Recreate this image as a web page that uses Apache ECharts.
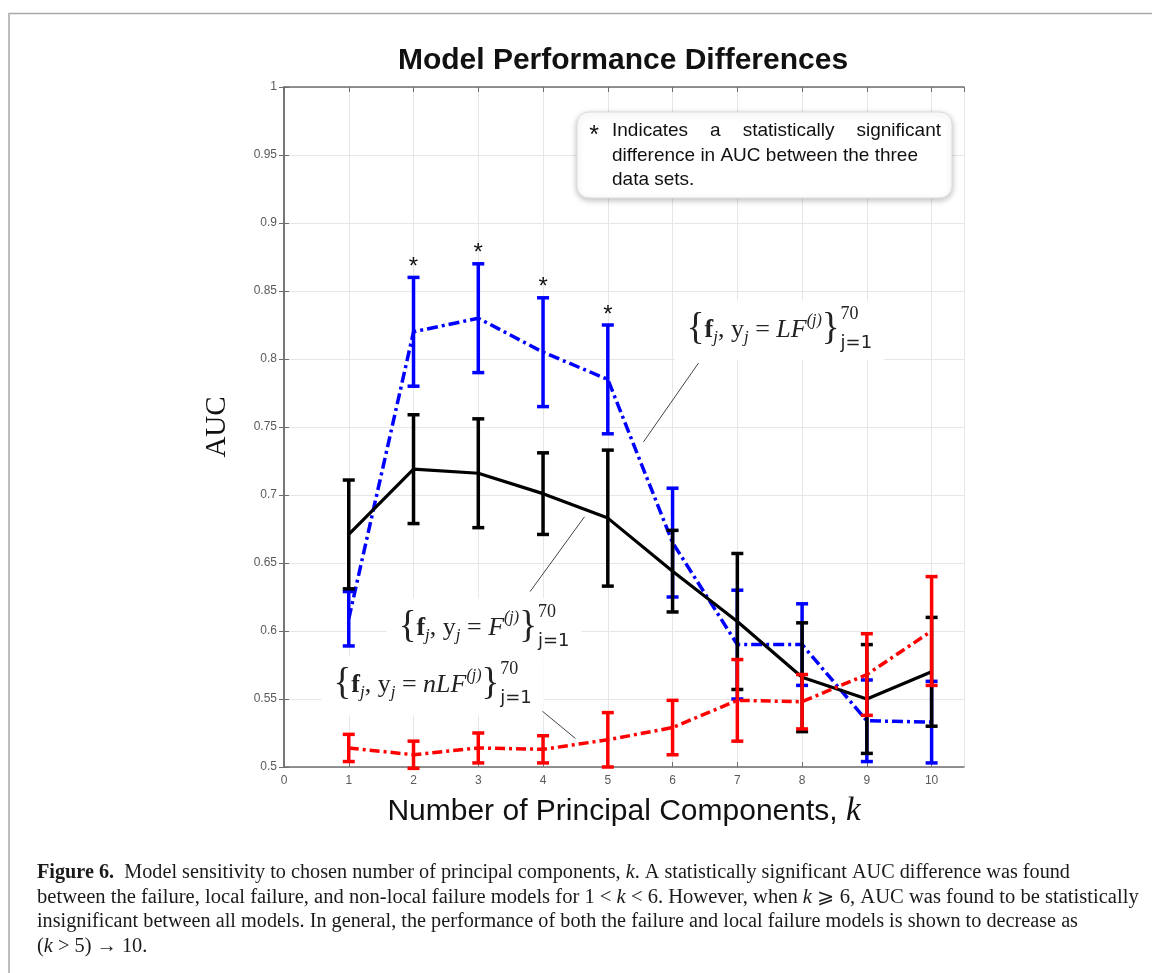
<!DOCTYPE html>
<html>
<head>
<meta charset="utf-8">
<script src="https://cdn.jsdelivr.net/npm/echarts@6/dist/echarts.min.js"></script>
<style>
  html, body { margin: 0; background: #fff; }
  #main { width: 1152px; height: 973px; }
</style>
</head>
<body>
<div id="main"></div>
<script>
// ---- data ----
const K = [1, 2, 3, 4, 5, 6, 7, 8, 9, 10];
// LF model (blue, dash-dot)
const lfMean = [0.609, 0.820, 0.830, 0.805, 0.785, 0.665, 0.590, 0.590, 0.534, 0.533];
const lfErr  = [0.020, 0.040, 0.040, 0.040, 0.040, 0.040, 0.040, 0.030, 0.030, 0.030];
// F model (black, solid)
const fMean  = [0.671, 0.719, 0.716, 0.701, 0.683, 0.644, 0.607, 0.566, 0.550, 0.570];
const fErr   = [0.040, 0.040, 0.040, 0.030, 0.050, 0.030, 0.050, 0.040, 0.040, 0.040];
// nLF model (red, dash-dot)
const nlfMean = [0.514, 0.509, 0.514, 0.513, 0.520, 0.529, 0.549, 0.548, 0.568, 0.600];
const nlfErr  = [0.010, 0.010, 0.011, 0.010, 0.020, 0.020, 0.030, 0.020, 0.030, 0.040];
// significant difference marks (*)
const sigFlag = [0, 1, 1, 1, 1, 0, 0, 0, 0, 0];

const xMin = 0, xMax = 10.5, xStep = 1;
const yMin = 0.5, yMax = 1, yStep = 0.05;

// ---- helpers ----
const ctx = document.createElement('canvas').getContext('2d');
function measure(text, size, family, style, weight) {
  ctx.font = `${style || 'normal'} ${weight || 'normal'} ${size}px ${family}`;
  return ctx.measureText(text).width;
}

function lineSeries(name, mean, color, width, dash, z) {
  return {
    type: 'line', name, z,
    data: K.map((k, i) => [k, mean[i]]),
    symbol: 'none',
    lineStyle: { color, width, type: dash },
    silent: true
  };
}

function errorSeries(name, mean, err, color, width, z, flags) {
  return {
    type: 'custom', name, z,
    data: K.map((k, i) => [k, mean[i] - err[i], mean[i] + err[i], flags ? flags[i] : 0]),
    encode: { x: 0, y: [1, 2] },
    renderItem(params, api) {
      const x = api.value(0);
      const lo = api.coord([x, api.value(1)]);
      const hi = api.coord([x, api.value(2)]);
      const hw = 6;
      const style = { stroke: color, lineWidth: width };
      const children = [
        { type: 'line', shape: { x1: lo[0], y1: lo[1], x2: hi[0], y2: hi[1] }, style },
        { type: 'line', shape: { x1: lo[0] - hw, y1: lo[1], x2: lo[0] + hw, y2: lo[1] }, style },
        { type: 'line', shape: { x1: hi[0] - hw, y1: hi[1], x2: hi[0] + hw, y2: hi[1] }, style }
      ];
      if (api.value(3)) {
        children.push({
          type: 'text', x: hi[0], y: hi[1] - 10,
          style: { text: '*', fill: '#111', fontSize: 24, fontFamily: 'Liberation Sans', align: 'center', verticalAlign: 'middle' }
        });
      }
      return { type: 'group', children };
    }
  };
}

const chart = echarts.init(document.getElementById('main'));

const axisGray = '#6f6f6f';
const labelGray = '#5a5a5a';

chart.setOption({
  animation: false,
  title: {
    text: 'Model Performance Differences',
    left: 618, top: 41, textAlign: 'center',
    textStyle: { fontFamily: 'Liberation Sans', fontSize: 30, fontWeight: 'bold', color: '#111' }
  },
  grid: { left: 284, right: 188, top: 87, bottom: 206 },
  xAxis: [{
    type: 'value', min: xMin, max: xMax, interval: xStep,
    name: 'Number of Principal Components, {i|k}',
    nameLocation: 'middle', nameGap: 28,
    nameTextStyle: {
      fontFamily: 'Liberation Sans', fontSize: 30, color: '#111',
      rich: { i: { fontFamily: 'Liberation Serif', fontStyle: 'italic', fontSize: 33, color: '#111' } }
    },
    axisLine: { show: true, lineStyle: { color: axisGray, width: 1.5 } },
    axisTick: { show: true, inside: true, length: 5, lineStyle: { color: axisGray } },
    axisLabel: { color: labelGray, fontSize: 12, fontFamily: 'Liberation Sans', margin: 8, showMaxLabel: false },
    splitLine: { show: true, lineStyle: { color: '#e6e6e6', width: 1 } }
  }, {
    type: 'value', min: xMin, max: xMax, interval: xStep, position: 'top',
    axisLine: { show: true, lineStyle: { color: axisGray, width: 1.5 } },
    axisTick: { show: true, inside: true, length: 5, lineStyle: { color: axisGray } },
    axisLabel: { show: false }, splitLine: { show: false }
  }],
  yAxis: [{
    type: 'value', min: yMin, max: yMax, interval: yStep,
    name: 'AUC', nameLocation: 'middle', nameGap: 52, nameRotate: 90,
    nameTextStyle: { fontFamily: 'Liberation Serif', fontSize: 29, color: '#111' },
    axisLine: { show: true, lineStyle: { color: axisGray, width: 1.5 } },
    axisTick: { show: true, inside: true, length: 5, lineStyle: { color: axisGray } },
    axisLabel: { color: labelGray, fontSize: 12, fontFamily: 'Liberation Sans', margin: 7 },
    splitLine: { show: true, lineStyle: { color: '#e6e6e6', width: 1 } }
  }, {
    type: 'value', min: yMin, max: yMax, interval: yStep, position: 'right',
    axisLine: { show: true, lineStyle: { color: axisGray, width: 1.5 } },
    axisTick: { show: true, inside: true, length: 5, lineStyle: { color: axisGray } },
    axisLabel: { show: false }, splitLine: { show: false }
  }],
  series: [
    lineSeries('LF', lfMean, '#0000ff', 3.5, [11, 4, 3, 4], 3),
    errorSeries('LF err', lfMean, lfErr, '#0000ff', 3.5, 3, sigFlag),
    lineSeries('F', fMean, '#000000', 3.2, 'solid', 4),
    errorSeries('F err', fMean, fErr, '#000000', 3.5, 4),
    lineSeries('nLF', nlfMean, '#ff0000', 3.5, [10, 4, 3, 4], 5),
    errorSeries('nLF err', nlfMean, nlfErr, '#ff0000', 3.5, 5)
  ]
});

// ---- annotations (positions given in data space) ----
const px = p => chart.convertToPixel({ gridIndex: 0 }, p);
const SERIF = '"Liberation Serif"';

function mathLabel(anchorData, model) {
  const a = px(anchorData);
  const parts = [
    { t: '{', size: 37, dy: -1 },
    { t: 'f', size: 26, weight: 'bold' },
    { t: 'j', size: 17, style: 'italic', dy: 7 },
    { t: ', y', size: 26 },
    { t: 'j', size: 17, style: 'italic', dy: 7 },
    { t: ' = ', size: 26 },
    { t: model, size: 26, style: 'italic' },
    { t: '(j)', size: 16, style: 'italic', dy: -10 },
    { t: '}', size: 37, dy: -1 }
  ];
  let x = a[0];
  const els = [];
  parts.forEach(p => {
    els.push({
      type: 'text', x, y: a[1] + (p.dy || 0), z: 102,
      style: { text: p.t, fontSize: p.size, fontFamily: SERIF, fontStyle: p.style || 'normal',
               fontWeight: p.weight || 'normal', fill: '#222', verticalAlign: 'middle' }
    });
    x += measure(p.t, p.size, SERIF, p.style, p.weight);
  });
  x += 1;
  els.push({ type: 'text', x, y: a[1] - 16, z: 102,
    style: { text: '70', fontSize: 18, fontFamily: SERIF, fill: '#222', verticalAlign: 'middle' } });
  els.push({ type: 'text', x, y: a[1] + 13, z: 102,
    style: { text: 'j=1', fontSize: 18, fontFamily: 'DejaVu Sans', fill: '#222', verticalAlign: 'middle' } });
  const right = x + measure('j=1', 18, 'DejaVu Sans') + 12;
  els.unshift({ type: 'rect', z: 101, shape: { x: a[0] - 12, y: a[1] - 30, width: right - a[0] + 12, height: 60 },
    style: { fill: '#fff' } });
  return els;
}

function leader(p1, p2) {
  const a = px(p1), b = px(p2);
  return { type: 'line', z: 103, shape: { x1: a[0], y1: a[1], x2: b[0], y2: b[1] },
    style: { stroke: '#444', lineWidth: 1 } };
}

// legend box text, first line justified
const legFont = 'Liberation Sans';
const legSize = 19;
const words1 = ['Indicates', 'a', 'statistically', 'significant'];
const lx0 = 612, lx1 = 941;
const wSum = words1.reduce((s, w) => s + measure(w, legSize, legFont), 0);
const gap = (lx1 - lx0 - wSum) / (words1.length - 1);
const legendEls = [{
  type: 'rect', z: 104, shape: { x: 577, y: 112, width: 375, height: 86, r: 12 },
  style: { fill: '#fff', stroke: '#dcdcdc', lineWidth: 1, shadowBlur: 6, shadowColor: 'rgba(0,0,0,0.25)', shadowOffsetY: 2 }
}, {
  type: 'text', x: 594, y: 136, z: 105,
  style: { text: '*', fontSize: 25, fontFamily: legFont, fill: '#111', align: 'center', verticalAlign: 'middle' }
}];
let wx = lx0;
words1.forEach(w => {
  legendEls.push({ type: 'text', x: wx, y: 131, z: 105,
    style: { text: w, fontSize: legSize, fontFamily: legFont, fill: '#111', verticalAlign: 'middle' } });
  wx += measure(w, legSize, legFont) + gap;
});
legendEls.push({ type: 'text', x: lx0, y: 155.5, z: 105,
  style: { text: 'difference in AUC between the three', fontSize: legSize, fontFamily: legFont, fill: '#111', verticalAlign: 'middle' } });
legendEls.push({ type: 'text', x: lx0, y: 180, z: 105,
  style: { text: 'data sets.', fontSize: legSize, fontFamily: legFont, fill: '#111', verticalAlign: 'middle' } });

// caption
const capSize = 20;
const capLines = [
  { plain: 'Figure 6.  Model sensitivity to chosen number of principal components, k. A statistically significant AUC difference was found',
    rich: '{b|Figure 6.}  Model sensitivity to chosen number of principal components, {i|k}. A statistically significant AUC difference was found',
    y: 873, right: 1067 },
  { plain: 'between the failure, local failure, and non-local failure models for 1 < k < 6. However, when k ⩾ 6, AUC was found to be statistically',
    rich: 'between the failure, local failure, and non-local failure models for 1 < {i|k} < 6. However, when {i|k} ⩾ 6, AUC was found to be statistically',
    y: 897.5, right: 1141 },
  { plain: 'insignificant between all models. In general, the performance of both the failure and local failure models is shown to decrease as',
    rich: 'insignificant between all models. In general, the performance of both the failure and local failure models is shown to decrease as',
    y: 922, right: 1078 },
  { plain: '(k > 5) → 10.', rich: '({i|k} > 5) → 10.', y: 946.5, right: null }
];
const capX = 37;
const scales = capLines.filter(l => l.right).map(l => (l.right - capX) / measure(l.plain, capSize, SERIF));
const avgScale = scales.reduce((s, v) => s + v, 0) / scales.length;
const capEls = capLines.map(l => ({
  type: 'text', x: capX, y: l.y, z: 100,
  scaleX: l.right ? (l.right - capX) / measure(l.plain, capSize, SERIF) : avgScale,
  style: {
    text: l.rich, fontSize: capSize, fontFamily: SERIF, fill: '#1a1a1a', verticalAlign: 'middle',
    rich: {
      b: { fontWeight: 'bold', fontSize: capSize, fontFamily: SERIF, fill: '#1a1a1a' },
      i: { fontStyle: 'italic', fontSize: capSize, fontFamily: SERIF, fill: '#1a1a1a' }
    }
  }
}));

chart.setOption({
  graphic: [
    { type: 'rect', z: 99, silent: true, shape: { x: 9, y: 13.5, width: 1160, height: 990 },
      style: { fill: 'none', stroke: '#a8a8a8', lineWidth: 1.5 } },
    ...legendEls,
    ...mathLabel([6.22, 0.821], 'LF'),
    ...mathLabel([1.77, 0.602], 'F'),
    ...mathLabel([0.765, 0.560], 'nLF'),
    leader([5.55, 0.739], [6.40, 0.797]),
    leader([3.80, 0.629], [4.64, 0.684]),
    leader([3.99, 0.541], [4.50, 0.521]),
    ...capEls
  ]
});
</script>
</body>
</html>
